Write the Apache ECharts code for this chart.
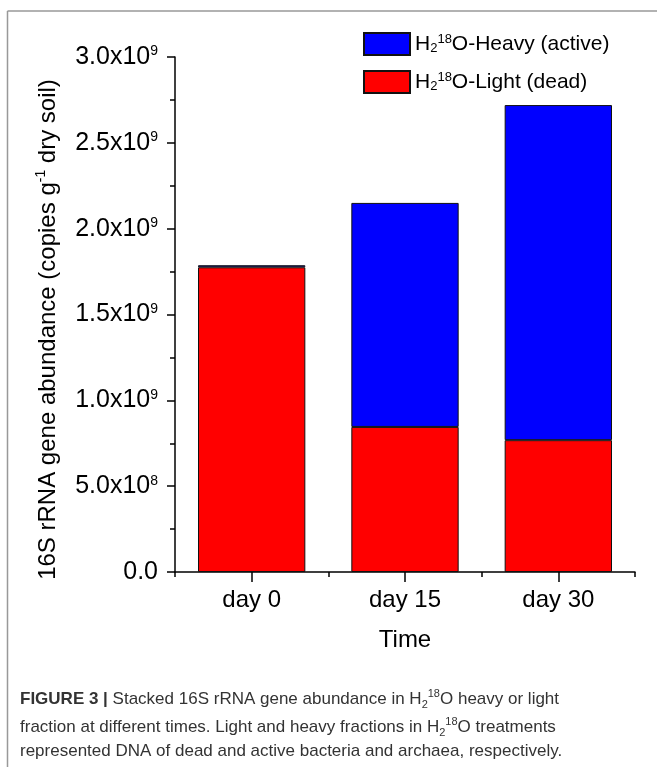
<!DOCTYPE html>
<html>
<head>
<meta charset="utf-8">
<script src="https://cdn.jsdelivr.net/npm/echarts@6/dist/echarts.min.js"></script>
<style>
html,body{margin:0;padding:0;background:#fff;}
#chart{width:657px;height:767px;}
</style>
</head>
<body>
<div id="chart"></div>
<script>
// ---- data ----
const categories = ['day 0', 'day 15', 'day 30'];
const lightValues = [1.775e9, 0.845e9, 0.768e9];   // H2 18O-Light (dead)
const heavyValues = [0.012e9, 1.305e9, 1.952e9];   // H2 18O-Heavy (active)
const yTickValues = [0, 5e8, 1e9, 1.5e9, 2e9, 2.5e9, 3e9];
const yTickMantissa = ['0.0', '5.0', '1.0', '1.5', '2.0', '2.5', '3.0'];
const yTickExponent = ['', '8', '9', '9', '9', '9', '9'];

const seriesHeavyName = 'Heavy';
const seriesLightName = 'Light';
const legendLabels = {
  Heavy: '{t|H}{sub|2}{sup|18}{t|O-Heavy (active)}',
  Light: '{t|H}{sub|2}{sup|18}{t|O-Light (dead)}'
};

const FONT = 'Liberation Sans, Arial, sans-serif';
const chart = echarts.init(document.getElementById('chart'), null, {renderer: 'canvas'});

const option = {
  backgroundColor: '#fff',
  animation: false,
  grid: {left: 175, right: 22, top: 57, bottom: 195, containLabel: false},
  legend: {
    data: [seriesHeavyName, seriesLightName],
    orient: 'vertical',
    left: 358,
    top: 27,
    itemWidth: 46,
    itemHeight: 22,
    itemGap: 14,
    icon: 'rect',
    selectedMode: false,
    formatter: function (name) { return legendLabels[name]; },
    textStyle: {
      color: '#000',
      fontFamily: FONT,
      fontSize: 21,
      rich: {
        t: {fontSize: 21, fontFamily: FONT, color: '#000', lineHeight: 22},
        sub: {fontSize: 13, fontFamily: FONT, color: '#000', lineHeight: 10, verticalAlign: 'bottom'},
        sup: {fontSize: 13, fontFamily: FONT, color: '#000', lineHeight: 10, verticalAlign: 'top'}
      }
    }
  },
  xAxis: [
    {
      type: 'category',
      data: categories,
      name: 'Time',
      nameLocation: 'middle',
      nameGap: 56,
      nameTextStyle: {fontFamily: FONT, fontSize: 24, color: '#000'},
      axisLine: {show: true, lineStyle: {color: '#000', width: 1.5}},
      axisTick: {show: true, alignWithLabel: true, length: 10, lineStyle: {color: '#000', width: 1.5}},
      axisLabel: {fontFamily: FONT, fontSize: 24, color: '#000', margin: 16},
      splitLine: {show: false}
    },
    {
      type: 'category',
      data: categories,
      position: 'bottom',
      axisLine: {show: false},
      axisTick: {show: true, length: 5, lineStyle: {color: '#000', width: 1.5}},
      axisLabel: {show: false},
      splitLine: {show: false}
    }
  ],
  yAxis: {
    type: 'value',
    min: 0,
    max: 3e9,
    interval: 5e8,
    name: '{t|16S rRNA gene abundance (copies g}{sup|-1}{t| dry soil)}',
    nameLocation: 'middle',
    nameRotate: 90,
    nameGap: 113,
    nameTextStyle: {
      fontFamily: FONT, fontSize: 24, color: '#000',
      padding: [0, 30, 0, 0],
      rich: {
        t: {fontSize: 24, fontFamily: FONT, color: '#000', lineHeight: 28},
        sup: {fontSize: 14, fontFamily: FONT, color: '#000', lineHeight: 14, verticalAlign: 'top'}
      }
    },
    axisLine: {show: true, lineStyle: {color: '#000', width: 1.5}},
    axisTick: {show: true, length: 8, lineStyle: {color: '#000', width: 1.5}},
    minorTick: {show: true, splitNumber: 2, length: 5, lineStyle: {color: '#000', width: 1.5}},
    splitLine: {show: false},
    minorSplitLine: {show: false},
    axisLabel: {
      margin: 17,
      formatter: function (value) {
        let i = yTickValues.findIndex(v => Math.abs(v - value) < 1);
        if (i < 0) return '';
        if (yTickExponent[i]) return '{m|' + yTickMantissa[i] + 'x10}{sup|' + yTickExponent[i] + '}';
        return '{m|' + yTickMantissa[i] + '}';
      },
      rich: {
        m: {fontSize: 25, fontFamily: FONT, color: '#000', lineHeight: 25},
        sup: {fontSize: 14, fontFamily: FONT, color: '#000', lineHeight: 12, verticalAlign: 'top'}
      }
    }
  },
  series: [
    {
      name: seriesLightName,
      type: 'bar',
      stack: 'total',
      barWidth: '70%',
      data: lightValues,
      itemStyle: {color: '#ff0000', borderColor: '#111', borderWidth: 1}
    },
    {
      name: seriesHeavyName,
      type: 'bar',
      stack: 'total',
      barWidth: '70%',
      data: heavyValues,
      itemStyle: {color: '#0000ff', borderColor: '#111', borderWidth: 1}
    }
  ],
  graphic: [
    {type: 'line', shape: {x1: 7.5, y1: 11, x2: 657, y2: 11}, style: {stroke: '#999', lineWidth: 1.5}, silent: true},
    {type: 'line', shape: {x1: 7.5, y1: 11, x2: 7.5, y2: 767}, style: {stroke: '#999', lineWidth: 1.5}, silent: true},
    {
      type: 'text', left: 20, top: 688, silent: true,
      style: {
        text: '{b|FIGURE 3 | }{n|Stacked 16S rRNA gene abundance in H}{sub|2}{sup|18}{n|O heavy or light}',
        rich: {
          b: {fontFamily: FONT, fontSize: 17, fontWeight: 'bold', fill: '#333', lineHeight: 22},
          n: {fontFamily: FONT, fontSize: 17, fill: '#333', lineHeight: 22},
          sub: {fontFamily: FONT, fontSize: 11, fill: '#333', lineHeight: 11, verticalAlign: 'bottom'},
          sup: {fontFamily: FONT, fontSize: 11, fill: '#333', lineHeight: 11, verticalAlign: 'top'}
        }
      }
    },
    {
      type: 'text', left: 20, top: 716, silent: true,
      style: {
        text: '{n|fraction at different times. Light and heavy fractions in H}{sub|2}{sup|18}{n|O treatments}',
        rich: {
          n: {fontFamily: FONT, fontSize: 17, fill: '#333', lineHeight: 22},
          sub: {fontFamily: FONT, fontSize: 11, fill: '#333', lineHeight: 11, verticalAlign: 'bottom'},
          sup: {fontFamily: FONT, fontSize: 11, fill: '#333', lineHeight: 11, verticalAlign: 'top'}
        }
      }
    },
    {
      type: 'text', left: 20, top: 743, silent: true,
      style: {
        text: '{n|represented DNA of dead and active bacteria and archaea, respectively.}',
        rich: {
          n: {fontFamily: FONT, fontSize: 17, fill: '#333', lineHeight: 22}
        }
      }
    }
  ]
};
chart.setOption(option);
</script>
</body>
</html>
